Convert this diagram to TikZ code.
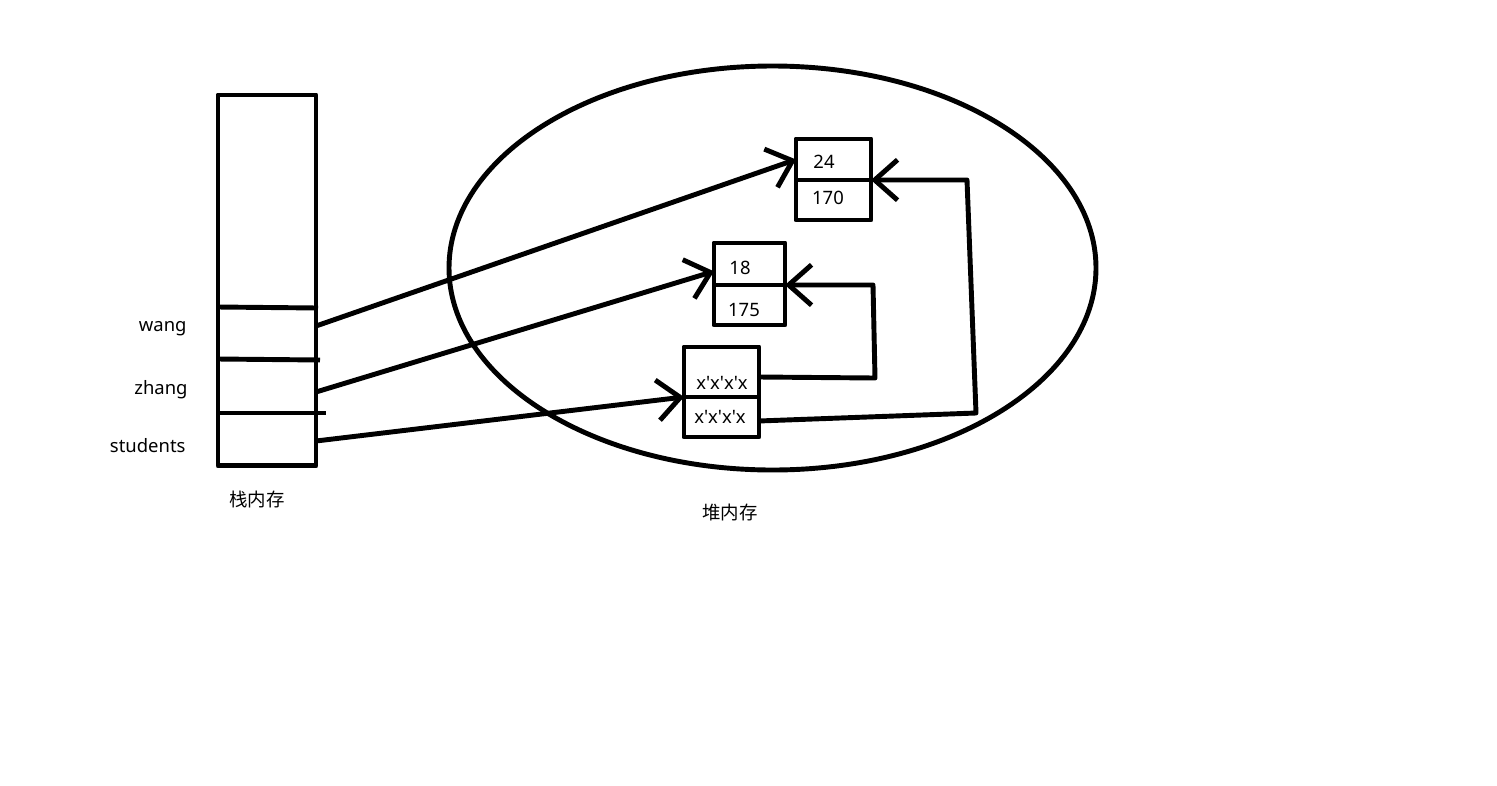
\documentclass[tikz,border=0pt]{standalone}
\usepackage{fontspec}
\setmainfont{Noto Sans}
\newfontfamily\cjk{Noto Sans CJK SC}
\usetikzlibrary{arrows.meta,calc}
\begin{document}
\begin{tikzpicture}[x=0.02cm,y=-0.02cm, line width=2.8pt, line join=round,
  cell/.style={draw, inner sep=0pt, outer sep=0pt, anchor=north west},
  ptr/.style={-{Straight Barb[length=13pt,width=23pt,line width=2.8pt]}},
  txt/.style={font=\fontsize{10.5}{12}\selectfont, inner sep=0pt}]
\useasboundingbox (0,0) rectangle (1497,785);
% stack
\node[cell, minimum width=1.96cm, minimum height=7.42cm] (stack) at (218,95) {};
\draw (218,307) -- (318,308);
\draw (218,359) -- (320,360);
\draw (218,413) -- (326,413);
\coordinate (w) at (316,326);
\coordinate (z) at (316,392);
\coordinate (s) at (316,441);
\node[txt, anchor=east] (lw) at (189,329) {wang};
\node[txt, anchor=east] (lz) at (190,390) {zhang};
\node[txt, anchor=east] (ls) at (188,446) {students};
\node[txt] (stacklbl) at (257,499) {\cjk 栈内存};
% heap
\draw (772.5,268) ellipse [x radius=323.5, y radius=202];
\node[txt] (heaplbl) at (730,512) {\cjk 堆内存};
% box A
\node[cell, minimum width=1.5cm, minimum height=0.82cm] (A1) at (796,139) {};
\node[cell, minimum width=1.5cm, minimum height=0.8cm] (A2) at (A1.south west) {};
\node[txt] at (824,162) {24};
\node[txt] at (828,198) {170};
% box B
\node[cell, minimum width=1.42cm, minimum height=0.84cm] (B1) at (714,243) {};
\node[cell, minimum width=1.42cm, minimum height=0.8cm] (B2) at (B1.south west) {};
\node[txt] at (740,268) {18};
\node[txt] at (744,310) {175};
% box C
\node[cell, minimum width=1.5cm, minimum height=1.0cm] (C1) at (684,347) {};
\node[cell, minimum width=1.5cm, minimum height=0.8cm] (C2) at (C1.south west) {};
\node[txt] at (722,383) {x\textquotesingle x\textquotesingle x\textquotesingle x};
\node[txt] at (720,417) {x\textquotesingle x\textquotesingle x\textquotesingle x};
% pointers from stack
\draw[ptr] (w) -- (A1.west);
\draw[ptr] (z) -- ($(B1.west)!0.35!(B1.south west)$);
\draw[ptr] (s) -- (C1.south west);
% pointers inside heap
\coordinate (c1a) at (875,378);
\coordinate (c1b) at (873,285);
\draw[ptr] ($(C1.east)+(0,5)$) -- (c1a) -- (c1b) -- (B1.south east);
\coordinate (c2a) at (976,413);
\coordinate (c2b) at (967,180);
\draw[ptr] ($(C2.east)+(0,4)$) -- (c2a) -- (c2b) -- (A1.south east);
\end{tikzpicture}
\end{document}
